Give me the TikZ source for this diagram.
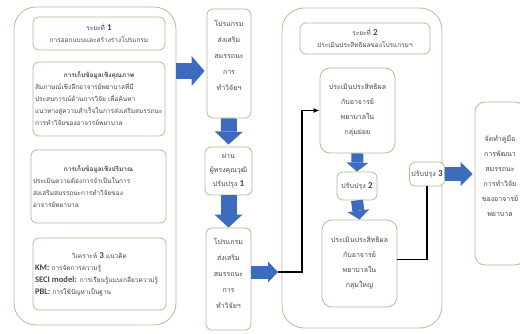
\documentclass[tikz,border=0pt]{standalone}
\usepackage{fontspec}
\setmainfont{Carlito}
\newfontfamily\latinfont{Carlito}
\newfontfamily\thaifont[Script=Thai]{Loma}
\usetikzlibrary{arrows.meta}

\definecolor{boxgreen}{RGB}{172,192,145}
\definecolor{arrowblue}{RGB}{61,108,190}
\definecolor{txtgray}{RGB}{70,70,70}

\newcommand{\phnum}[1]{{\latinfont\bfseries\fontsize{9}{12}\selectfont #1}}
\newcommand{\latbold}[1]{{\latinfont\bfseries\fontsize{8.5}{12}\selectfont #1}}

\begin{document}
\begin{tikzpicture}[x=1pt, y=-1pt,
	outer/.style={draw=boxgreen, line width=0.8pt, rounded corners=22pt},
	box/.style={draw=boxgreen, fill=white, line width=0.8pt, rounded corners=6pt, inner sep=2pt, text=txtgray, align=center, font=\thaifont\fontsize{6.5}{12}\selectfont},
	progbox/.style={box, font=\thaifont\fontsize{7}{16}\selectfont},
	bluearrow/.style={draw=arrowblue, line width=#1},
	flowline/.style={draw=black, line width=1.2pt}]

	\useasboundingbox (0,0) rectangle (520,334);

	\node (ph1) [outer, minimum width=162pt, minimum height=318pt] at (95,166) {};
	\node (ph2) [outer, minimum width=160pt, minimum height=320pt] at (362,168) {};

	\node (h1) [box, minimum width=132pt, minimum height=33pt] at (99,33.5) {ระยะที่ \phnum{1}\\การออกแบบและสร้างร่างโปรแกรม};
	\node (qual) [box, text width=128pt, align=left, minimum height=74pt] at (99,99) {\hfill{\bfseries การเก็บข้อมูลเชิงคุณภาพ}\hfill\null\\สัมภาษณ์เชิงลึกอาจารย์พยาบาลที่มี\\ประสบการณ์ด้านการวิจัย เพื่อค้นหา\\แนวทางสู่ความสำเร็จในการส่งเสริมสมรรถนะ\\การทำวิจัยของอาจารย์พยาบาล};
	\node (quan) [box, text width=131pt, align=left, minimum height=73pt] at (98.5,186.5) {\hfill{\bfseries การเก็บข้อมูลเชิงปริมาณ}\hfill\null\\ประเมินความต้องการจำเป็นในการ\\ส่งเสริมสมรรถนะการทำวิจัยของ\\อาจารย์พยาบาล};
	\node (anal) [box, text width=129pt, align=left, minimum height=72pt] at (99.5,274) {\hfill วิเคราะห์ \phnum{3} แนวคิด\hfill\null\\\latbold{KM:} การจัดการความรู้\\\latbold{SECI model:} การเรียนรู้แบบเกลียวความรู้\\\latbold{PBL:} การใช้ปัญหาเป็นฐาน};

	\node (prog1) [progbox, text depth=16pt, minimum width=44pt, minimum height=109pt] at (229,63.5) {โปรแกรม\\ส่งเสริม\\สมรรถนะ\\การ\\ทำวิจัยฯ};
	\node (expert) [box, font=\thaifont\fontsize{7}{14}\selectfont, minimum width=47pt, minimum height=48pt] at (228.5,171) {ผ่าน\\ผู้ทรงคุณวุฒิ\\ปรับปรุง \phnum{1}};
	\node (prog2) [progbox, text depth=12pt, minimum width=45pt, minimum height=102pt] at (228.5,279) {โปรแกรม\\ส่งเสริม\\สมรรถนะ\\การ\\ทำวิจัยฯ};

	\node (h2) [box, minimum width=130pt, minimum height=31pt] at (365,38.5) {ระยะที่ \phnum{2}\\ประเมินประสิทธิผลของโปรแกรมฯ};
	\node (small) [progbox, font=\thaifont\fontsize{7}{15}\selectfont, minimum width=75pt, minimum height=85pt, rounded corners=10pt] at (357.5,110.5) {ประเมินประสิทธิผล\\กับอาจารย์\\พยาบาลใน\\กลุ่มย่อย};
	\node (imp2) [box, font=\thaifont\fontsize{7}{12}\selectfont, minimum width=40pt, minimum height=28pt] at (357,186) {ปรับปรุง \phnum{2}};
	\node (large) [progbox, font=\thaifont\fontsize{7}{15}\selectfont, minimum width=75pt, minimum height=87pt, rounded corners=10pt] at (359.5,263.5) {ประเมินประสิทธิผล\\กับอาจารย์\\พยาบาลใน\\กลุ่มใหญ่};
	\node (imp3) [box, font=\thaifont\fontsize{7}{12}\selectfont, minimum width=34pt, minimum height=24pt] at (427,174) {ปรับปรุง \phnum{3}};
	\node (manual) [progbox, font=\thaifont\fontsize{7}{15}\selectfont, text depth=14pt, minimum width=50pt, minimum height=163pt, rounded corners=10pt] at (500,183.5) {จัดทำคู่มือ\\การพัฒนา\\สมรรถนะ\\การทำวิจัย\\ของอาจารย์\\พยาบาล};

	\coordinate (a1) at (0,71);
	\coordinate (j1) at (278,272);

	\draw[bluearrow=16pt, -{Triangle[length=13pt, width=30pt, line width=0pt]}] (ph1.east |- a1) -- ([xshift=-2pt]prog1.west |- a1);
	\draw[bluearrow=16pt, -{Triangle[length=13pt, width=28pt, line width=0pt]}] (prog1.south) -- ([yshift=2pt]expert.north);
	\draw[bluearrow=16pt, -{Triangle[length=13pt, width=28pt, line width=0pt]}] (expert.south) -- (prog2.north);
	\draw[bluearrow=13pt, -{Triangle[length=10pt, width=21pt, line width=0pt]}] (prog2.east |- j1) -- (j1);
	\draw[bluearrow=12pt, -{Triangle[length=9pt, width=22pt, line width=0pt]}] (small.south) -- (imp2.north);
	\draw[bluearrow=12pt, -{Triangle[length=9pt, width=22pt, line width=0pt]}] (imp2.south) -- (large.north);
	\draw[bluearrow=14pt, -{Triangle[length=12pt, width=24pt, line width=0pt]}] (imp3.east) -- ([xshift=-2pt]manual.west |- imp3.east);

	\draw[flowline, -{Latex[length=6pt, width=5pt]}] (j1) -- ++(24,0) |- (small.west);
	\draw[flowline] ([yshift=4pt]large.east) -| (imp3.south);

\end{tikzpicture}
\end{document}
